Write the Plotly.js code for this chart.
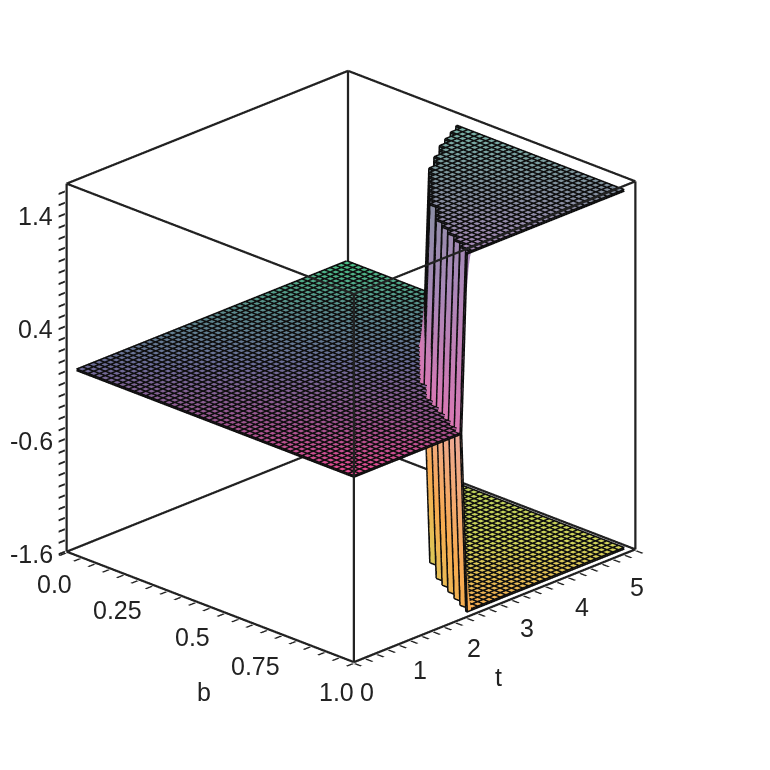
<!DOCTYPE html>
<html><head><meta charset="utf-8">
<script src="https://cdn.plot.ly/plotly-3.0.1.min.js"></script>
<style>html,body{margin:0;background:#fff}#p{width:770px;height:770px}</style>
</head><body><div id="p"></div>
<script>
var bValues=[0.035,0.055,0.075,0.095,0.115,0.136,0.156,0.176,0.196,0.216,0.236,0.256,0.276,0.296,0.316,0.337,0.357,0.377,0.397,0.417,0.437,0.457,0.477,0.497,0.517,0.538,0.558,0.578,0.598,0.618,0.638,0.658,0.678,0.698,0.718,0.739,0.759,0.779,0.799,0.819,0.839,0.859,0.879,0.900,0.920,0.940,0.960,0.980,1.0];
var tValues=[0,0.1,0.2,0.3,0.4,0.5,0.6,0.7,0.8,0.9,1,1.1,1.2,1.3,1.4,1.5,1.6,1.7,1.8,1.9,2,2.1,2.2,2.3,2.4,2.5,2.6,2.7,2.8,2.9,3,3.1,3.2,3.3,3.4,3.5,3.6,3.7,3.8,3.9,4,4.1,4.2,4.3,4.4,4.5,4.6,4.7,4.8];
var jumpIndex=[49,49,49,49,49,49,49,49,49,49,49,49,49,49,49,49,49,49,49,48,46,44,42,41,39,38,36,35,34,33,32,31,30,29,28,28,27,26,25,25,24,24,23,23,22,22,21,21,20];
var midLevel=0.05, topLevel=1.63, bottomLevel=-1.55;
var bRange=[0,1], tRange=[0,5], zRange=[-1.6,1.67];
var bTicks=[0,0.05,0.1,0.15,0.2,0.25,0.3,0.35,0.4,0.45,0.5,0.55,0.6,0.65,0.7,0.75,0.8,0.85,0.9,0.95,1];
var tTicks=[0,0.2,0.4,0.6,0.8,1,1.2,1.4,1.6,1.8,2,2.2,2.4,2.6,2.8,3,3.2,3.4,3.6,3.8,4,4.2,4.4,4.6,4.8,5];
var zTicks=[-1.6,-1.5,-1.4,-1.3,-1.2,-1.1,-1,-0.9,-0.8,-0.7,-0.6,-0.5,-0.4,-0.3,-0.2,-0.1,0,0.1,0.2,0.3,0.4,0.5,0.6,0.7,0.8,0.9,1,1.1,1.2,1.3,1.4,1.5,1.6];
var bMajor=[0,0.25,0.5,0.75,1], bLabels=['0.0','0.25','0.5','0.75','1.0'];
var tMajor=[0,1,2,3,4,5], tLabels=['0','1','2','3','4','5'];
var zMajor=[-1.6,-0.6,0.4,1.4], zLabels=['-1.6','-0.6','0.4','1.4'];
var bLabelShiftX=[-12,-21,-18,-27,-17], bLabelShiftY=[-32,-31,-30,-31,-30];
var tLabelShiftX=[13,10,7,4,3,2], tLabelShiftY=[-30,-30,-31,-33,-35,-38];
var midScale=[[0,'#eb4a92'],[0.25,'#9c5590'],[0.5,'#6c6c98'],[0.75,'#5a8c8c'],[1,'#46c884']];
var topScale=[[0,'#d878b4'],[0.2,'#a888b8'],[0.5,'#80909c'],[1,'#6ed0ae']];
var bottomScale=[[0,'#eca898'],[0.2,'#f8aa50'],[0.5,'#d0d45a'],[1,'#a8cc5a']];
var labelFont={family:'Liberation Sans, Arial, sans-serif',size:25,color:'#222'};
function isPast(i,j){return j>=jumpIndex[i];}
function nearJump(i,j){
  for(var a=-1;a<=1;a++)for(var c=-1;c<=1;c++){
    var r=i+a,k=j+c;
    if(r>=0&&r<bValues.length&&k>=0&&k<tValues.length&&isPast(r,k))return true;
  }
  return false;
}
function sheet(level,wallColor){
  var z=[],c=[];
  tValues.forEach(function(t,j){
    var zr=[],cr=[];
    bValues.forEach(function(b,i){
      if(isPast(i,j)){zr.push(level);cr.push(t/5-b);}
      else if(nearJump(i,j)){zr.push(midLevel);cr.push(wallColor);}
      else{zr.push(null);cr.push(null);}
    });
    z.push(zr);c.push(cr);
  });
  return {z:z,c:c};
}
function midSheet(){
  var z=[],c=[];
  tValues.forEach(function(t,j){
    var zr=[],cr=[];
    bValues.forEach(function(b,i){
      if(!isPast(i,j)){zr.push(midLevel);cr.push(t/5-b);}
      else{zr.push(null);cr.push(null);}
    });
    z.push(zr);c.push(cr);
  });
  return {z:z,c:c};
}
function surf(s,scale){
  return {type:'surface',x:bValues,y:tValues,z:s.z,surfacecolor:s.c,cmin:-1,cmax:1,colorscale:scale,showscale:false,hoverinfo:'skip',
    lighting:{ambient:1,diffuse:0,specular:0,roughness:1,fresnel:0},
    contours:{x:{show:false,highlight:false},y:{show:false,highlight:false},z:{show:false,highlight:false}}};
}
function mesh(s){
  var X=[],Y=[],Z=[];
  function put(i,j){
    var v=s.z[j][i];
    if(v===null){X.push(null);Y.push(null);Z.push(null);}
    else{X.push(bValues[i]);Y.push(tValues[j]);Z.push(v);}
  }
  function gap(){X.push(null);Y.push(null);Z.push(null);}
  for(var j=0;j<tValues.length;j++){for(var i=0;i<bValues.length;i++)put(i,j);gap();}
  for(var i2=0;i2<bValues.length;i2++){for(var j2=0;j2<tValues.length;j2++)put(i2,j2);gap();}
  return {type:'scatter3d',mode:'lines',x:X,y:Y,z:Z,line:{color:'#0e0e0e',width:6},hoverinfo:'skip',connectgaps:false,showlegend:false};
}
function box(){
  var b=bRange,t=tRange,z=zRange,X=[],Y=[],Z=[];
  function seg(a,c,d,e,f,g){X.push(a,d,null);Y.push(c,e,null);Z.push(f,g,null);}
  [0,1].forEach(function(p){[0,1].forEach(function(q){
    seg(b[0],t[p],b[1],t[p],z[q],z[q]);
    seg(b[p],t[0],b[p],t[1],z[q],z[q]);
    seg(b[p],t[q],b[p],t[q],z[0],z[1]);
  });});
  return {type:'scatter3d',mode:'lines',x:X,y:Y,z:Z,line:{color:'#222',width:4.5},hoverinfo:'skip',connectgaps:false,showlegend:false};
}
function axis(vals,rng,pad){
  return {title:{text:''},range:[rng[0]-pad,rng[1]+pad],autorange:false,tickmode:'array',tickvals:vals,showticklabels:false,
    showgrid:false,zeroline:false,showbackground:false,showspikes:false,showline:false,
    ticks:'outside',ticklen:9,tickwidth:4,tickcolor:'#222'};
}
var labels=[];
bMajor.forEach(function(v,n){labels.push({x:v,y:tRange[0],z:zRange[0],text:bLabels[n],showarrow:false,xshift:bLabelShiftX[n],yshift:bLabelShiftY[n],font:labelFont});});
tMajor.forEach(function(v,n){labels.push({x:bRange[1],y:v,z:zRange[0],text:tLabels[n],showarrow:false,xshift:tLabelShiftX[n],yshift:tLabelShiftY[n],font:labelFont});});
zMajor.forEach(function(v,n){labels.push({x:bRange[0],y:tRange[0],z:v,text:zLabels[n],showarrow:false,xanchor:'right',xshift:-12,yshift:-2,font:labelFont});});
var k=1.821,s=1.104;
var mid=midSheet(),up=sheet(topLevel,-1),low=sheet(bottomLevel,-1);
Plotly.newPlot('p',[surf(mid,midScale),surf(up,topScale),surf(low,bottomScale),mesh(mid),mesh(up),mesh(low),box()],{
  width:770,height:770,margin:{l:0,r:0,t:0,b:0},paper_bgcolor:'#fff',showlegend:false,
  annotations:[
   {xref:'paper',yref:'paper',x:204/770,y:1-692/770,xanchor:'center',yanchor:'middle',text:'b',showarrow:false,font:labelFont},
   {xref:'paper',yref:'paper',x:498/770,y:1-677/770,xanchor:'center',yanchor:'middle',text:'t',showarrow:false,font:labelFont}],
  scene:{domain:{x:[0,0.9117],y:[0.048,1]},aspectmode:'manual',aspectratio:{x:s,y:s,z:0.995*s},
    annotations:labels,
    camera:{projection:{type:'orthographic'},up:{x:0,y:0,z:1},center:{x:0,y:0,z:0},eye:{x:0.697*k,y:-0.7115*k,z:0.425*k}},
    xaxis:axis(bTicks,bRange,0.003),
    yaxis:axis(tTicks,tRange,0.015),
    zaxis:axis(zTicks,zRange,0.01)}
},{displayModeBar:false});
</script></body></html>
